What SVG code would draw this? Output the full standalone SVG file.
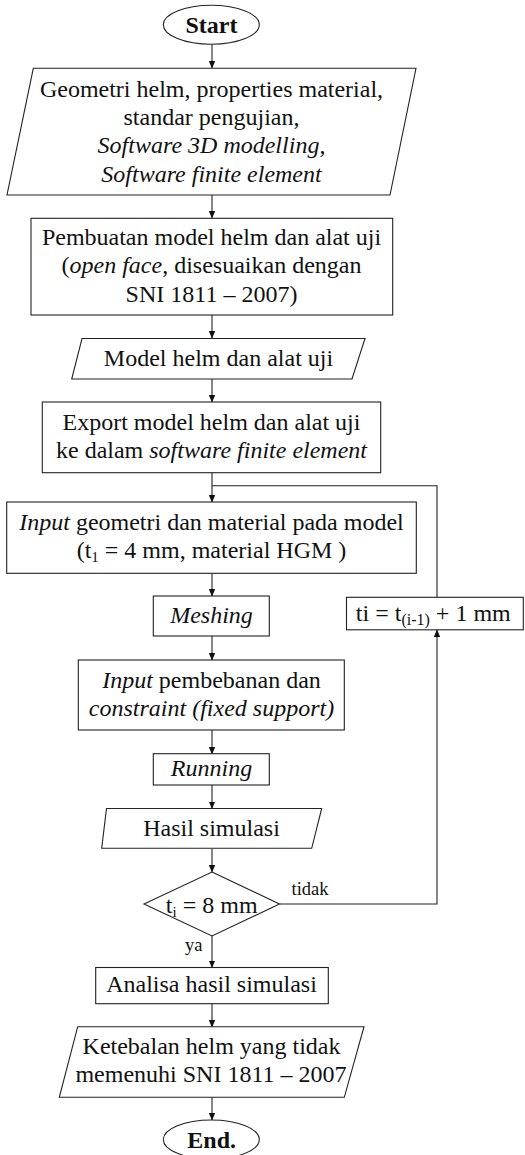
<svg xmlns="http://www.w3.org/2000/svg" width="525" height="1155" viewBox="0 0 525 1155">
<defs>
<marker id="ah" markerWidth="8" markerHeight="8" refX="7" refY="4" orient="auto" markerUnits="userSpaceOnUse">
<path d="M0,0.8 L7.5,4 L0,7.2 Z" fill="#111"/>
</marker>
<style>
.s{fill:#fff;stroke:#222;stroke-width:1.1}
.t{font-family:"Liberation Serif","Times New Roman",serif;font-size:24px;fill:#111;text-anchor:middle}
.b{font-weight:bold}
.i{font-style:italic}
.sm{font-family:"Liberation Serif","Times New Roman",serif;font-size:18.5px;fill:#111}
.c{fill:none;stroke:#222;stroke-width:1.1}
</style>
</defs>
<rect width="525" height="1155" fill="#fff"/>
<g id="connectors">
<line class="c" x1="212" y1="44" x2="212" y2="68" marker-end="url(#ah)"/>
<line class="c" x1="212" y1="195" x2="212" y2="218" marker-end="url(#ah)"/>
<line class="c" x1="212" y1="315" x2="212" y2="338" marker-end="url(#ah)"/>
<line class="c" x1="212" y1="379" x2="212" y2="402" marker-end="url(#ah)"/>
<line class="c" x1="212" y1="473" x2="212" y2="502" marker-end="url(#ah)"/>
<line class="c" x1="212" y1="573" x2="212" y2="596" marker-end="url(#ah)"/>
<line class="c" x1="212" y1="636" x2="212" y2="660" marker-end="url(#ah)"/>
<line class="c" x1="212" y1="730" x2="212" y2="754" marker-end="url(#ah)"/>
<line class="c" x1="212" y1="785" x2="212" y2="808.5" marker-end="url(#ah)"/>
<line class="c" x1="212" y1="848.5" x2="212" y2="872" marker-end="url(#ah)"/>
<line class="c" x1="212" y1="936" x2="212" y2="967.5" marker-end="url(#ah)"/>
<line class="c" x1="212" y1="1004" x2="212" y2="1027" marker-end="url(#ah)"/>
<line class="c" x1="212" y1="1097.5" x2="212" y2="1120" marker-end="url(#ah)"/>
<polyline class="c" points="279.5,904 437,904 437,630" marker-end="url(#ah)"/>
<polyline class="c" points="437,597 437,485.7 212,485.7"/>
<text class="sm" x="291.5" y="895">tidak</text>
<text class="sm" x="185" y="950.5">ya</text>
</g>
<g id="start">
<ellipse class="s" cx="211.3" cy="24.7" rx="48" ry="19.5"/>
<text class="t b" x="211.5" y="32.5">Start</text>
</g>
<g id="input1">
<polygon class="s" points="33.3,68.3 416,68.3 390,195 7,195"/>
<text class="t" x="211.5" y="96.7">Geometri helm, properties material,</text>
<text class="t" x="211.5" y="125">standar pengujian,</text>
<text class="t" x="211.5" y="153.3"><tspan class="i">Software 3D modelling</tspan>,</text>
<text class="t i" x="211.5" y="181.7">Software finite element</text>
</g>
<g id="model">
<rect class="s" x="31" y="218.3" width="361.7" height="96.7"/>
<text class="t" x="211.5" y="245">Pembuatan model helm dan alat uji</text>
<text class="t" x="211.5" y="273">(<tspan class="i">open face</tspan>, disesuaikan dengan</text>
<text class="t" x="211.5" y="301.5">SNI 1811 – 2007)</text>
</g>
<g id="output1">
<polygon class="s" points="82,338.5 365,338.5 352,379 71.7,379"/>
<text class="t" x="218.5" y="366">Model helm dan alat uji</text>
</g>
<g id="export">
<rect class="s" x="42.3" y="402" width="338.4" height="70.7"/>
<text class="t" x="211.5" y="430">Export model helm dan alat uji</text>
<text class="t" x="211.5" y="458.3">ke dalam <tspan class="i">software finite element</tspan></text>
</g>
<g id="inputgeo">
<rect class="s" x="6.7" y="502" width="409.6" height="71.3"/>
<text class="t" x="211.5" y="530"><tspan class="i">Input</tspan> geometri dan material pada model</text>
<text class="t" x="211.5" y="558.3">(t<tspan font-size="15" dy="4">1</tspan><tspan dy="-4"> = 4 mm, material HGM )</tspan></text>
</g>
<g id="meshing">
<rect class="s" x="153.3" y="596" width="116" height="40"/>
<text class="t i" x="211.5" y="623.3">Meshing</text>
</g>
<g id="increment">
<rect class="s" x="346.5" y="597.3" width="176.8" height="32.5"/>
<text class="t" x="433.3" y="620.7">ti = t<tspan font-size="16" dy="4">(i-1)</tspan><tspan dy="-4"> + 1 mm</tspan></text>
</g>
<g id="loading">
<rect class="s" x="78.3" y="660" width="266" height="70"/>
<text class="t" x="211.5" y="688.3"><tspan class="i">Input</tspan> pembebanan dan</text>
<text class="t i" x="211.5" y="716">constraint (fixed support)</text>
</g>
<g id="running">
<rect class="s" x="153.3" y="753.7" width="116" height="31.3"/>
<text class="t i" x="211.5" y="775.7">Running</text>
</g>
<g id="hasil">
<polygon class="s" points="106.5,808.5 321.7,808.5 311.7,848.3 101.7,848.3"/>
<text class="t" x="211.5" y="836">Hasil simulasi</text>
</g>
<g id="decision">
<polygon class="s" points="212,872 279.5,904 212,936 144,904"/>
<text class="t" x="211.7" y="913">t<tspan font-size="15" dy="4">i</tspan><tspan dy="-4"> = 8 mm</tspan></text>
</g>
<g id="analisa">
<rect class="s" x="95.7" y="967.5" width="232.6" height="36.2"/>
<text class="t" x="211.5" y="991.7">Analisa hasil simulasi</text>
</g>
<g id="output2">
<polygon class="s" points="77.7,1026.7 364,1026.7 344.3,1097.3 59.3,1097.3"/>
<text class="t" x="211.5" y="1054">Ketebalan helm yang tidak</text>
<text class="t" x="211" y="1081.7">memenuhi SNI 1811 – 2007</text>
</g>
<g id="end">
<ellipse class="s" cx="211.3" cy="1139.5" rx="48" ry="19.5"/>
<text class="t b" x="211.7" y="1148.3">End.</text>
</g>
</svg>
